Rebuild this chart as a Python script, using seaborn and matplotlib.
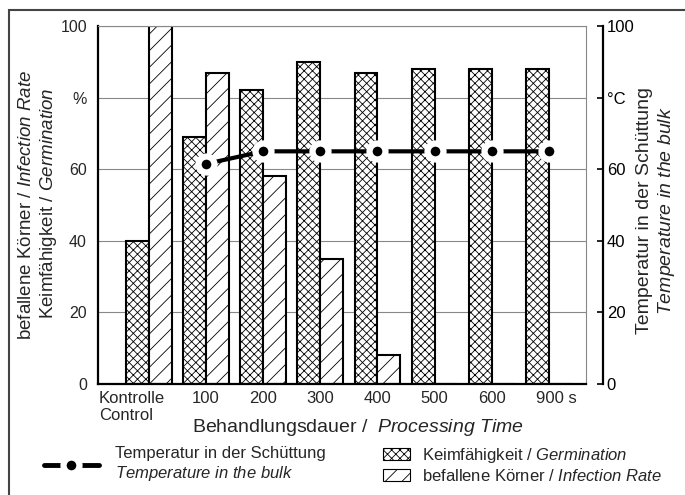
import numpy as np
import pandas as pd
import seaborn as sns
import matplotlib.pyplot as plt
from matplotlib.lines import Line2D
from matplotlib.patches import Patch, Rectangle
from matplotlib.transforms import ScaledTranslation

# Werte
categories = ["Kontrolle\nControl", "100", "200", "300", "400", "500", "600", "900 s"]
germination = [40, 69, 82, 90, 87, 88, 88, 88]
infection = [100, 87, 58, 35, 8, 0, 0, 0]
temperature = [np.nan, 61.5, 65, 65, 65, 65, 65, 65]
yticks = [0, 20, 40, 60, 80, 100]
left_ticklabels = ["0", "20", "40", "60", "%", "100"]
right_ticklabels = ["0", "20", "40", "60", "°C", "100"]

sns.set_theme(style="white")
plt.rcParams["font.family"] = ["Liberation Sans", "DejaVu Sans"]
plt.rcParams["mathtext.fontset"] = "custom"
plt.rcParams["mathtext.rm"] = "Liberation Sans"
plt.rcParams["mathtext.it"] = "Liberation Sans:italic"
plt.rcParams["hatch.linewidth"] = 0.6

df = pd.DataFrame({
    "Dauer": categories * 2,
    "Wert": germination + infection,
    "Serie": ["Keimfähigkeit"] * len(categories) + ["befallen"] * len(categories),
})

fig = plt.figure(figsize=(6.85, 4.95), dpi=100)
ax = fig.add_axes([0.1431, 0.2242, 0.7124, 0.7232])
ax.set_axisbelow(True)
ax.yaxis.grid(True, color="#888888", lw=0.8)

sns.barplot(data=df, x="Dauer", y="Wert", hue="Serie", palette=["white", "white"],
            edgecolor="black", linewidth=1.5, width=0.8, legend=False, ax=ax)
for bar in ax.containers[0]:
    bar.set_hatch("xxxx")
for bar in ax.containers[1]:
    bar.set_hatch("//")

ax.set_ylim(0, 100)
ax.set_yticks(yticks)
ax.set_yticklabels(left_ticklabels)
ax.tick_params(axis="y", length=0, pad=8, labelsize=11.5)
ax.tick_params(axis="x", length=0, pad=5, labelsize=12)
ax.set_ylabel("")
ax.set_xlabel(r"Behandlungsdauer /  $\mathit{Processing\ Time}$", fontsize=14)
ax.xaxis.set_label_coords(0.533, -0.092)
for side in ["left", "bottom"]:
    ax.spines[side].set_color("black")
    ax.spines[side].set_linewidth(1.6)
for side in ["top", "right"]:
    ax.spines[side].set_color("#888888")
    ax.spines[side].set_linewidth(0.8)

labels = ax.get_xticklabels()
labels[0].set_multialignment("left")
labels[0].set_transform(labels[0].get_transform() + ScaledTranslation(-0.17, 0, fig.dpi_scale_trans))
labels[-1].set_transform(labels[-1].get_transform() + ScaledTranslation(0.07, 0, fig.dpi_scale_trans))

# Temperaturachse rechts
ax2 = ax.twinx()
sns.lineplot(x=np.arange(len(categories)), y=temperature, ax=ax2, color="black", lw=3,
             marker="o", markersize=11.5, markeredgecolor="white", markeredgewidth=4.5)
ax2.set_ylim(0, 100)
ax2.set_yticks(yticks)
ax2.set_yticklabels(right_ticklabels)
ax2.set_ylabel("")
for side in ["left", "top", "bottom"]:
    ax2.spines[side].set_visible(False)
ax2.spines["right"].set_position(("outward", 12))
ax2.spines["right"].set_color("black")
ax2.spines["right"].set_linewidth(1.6)
ax2.tick_params(axis="y", direction="in", length=4.5, width=1.2, pad=3, labelsize=12,
                right=True, colors="black")
ax.set_xlim(-0.89, 7.65)

# Achsentitel
fig.text(0.038, 0.586, r"befallene Körner / $\mathit{Infection\ Rate}$", rotation=90,
         ha="center", va="center", fontsize=13.5)
fig.text(0.0715, 0.590, r"Keimfähigkeit / $\mathit{Germination}$", rotation=90,
         ha="center", va="center", fontsize=13.5)
fig.text(0.9416, 0.574, "Temperatur in der Schüttung", rotation=90,
         ha="center", va="center", fontsize=14)
fig.text(0.9737, 0.574, r"$\mathit{Temperature\ in\ the\ bulk}$", rotation=90,
         ha="center", va="center", fontsize=14)

# Legenden
line_handle = Line2D([], [], color="black", lw=3.5, marker="o", markersize=11.5,
                     markeredgecolor="white", markeredgewidth=4.5)
fig.legend([line_handle],
           ["Temperatur in der Schüttung\n" + r"$\mathit{Temperature\ in\ the\ bulk}$"],
           loc="center left", bbox_to_anchor=(0.064, 0.061), frameon=False,
           handlelength=3.3, handletextpad=0.95, borderpad=0, borderaxespad=0,
           fontsize=12)
patch_handles = [Patch(facecolor="white", edgecolor="black", lw=0.8, hatch="xxxx"),
                 Patch(facecolor="white", edgecolor="black", lw=0.8, hatch="//")]
fig.legend(patch_handles,
           [r"Keimfähigkeit / $\mathit{Germination}$",
            r"befallene Körner / $\mathit{Infection\ Rate}$"],
           loc="center left", bbox_to_anchor=(0.559, 0.061), frameon=False,
           handlelength=1.6, handleheight=0.7, handletextpad=0.75, labelspacing=0.15,
           borderpad=0, borderaxespad=0, fontsize=12)

fig.add_artist(Rectangle((9 / 685, -0.1), 1.2, 1.1 - 10 / 495, transform=fig.transFigure,
                         fill=False, edgecolor="#444444", lw=1.5))

fig.savefig("out.png", dpi=100)
